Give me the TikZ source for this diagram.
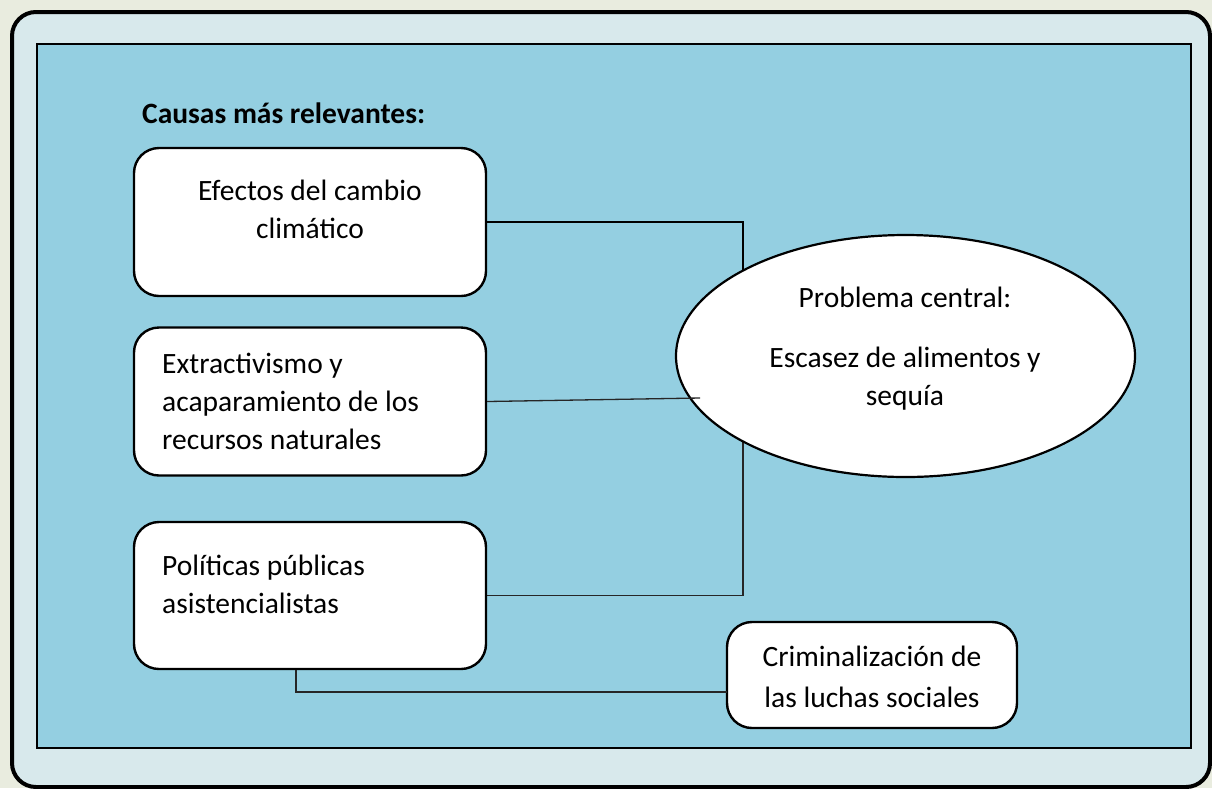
\documentclass[tikz,border=0pt]{standalone}
\usepackage{fontspec}
\setmainfont{Carlito}
\usetikzlibrary{shapes.geometric}
\pgfdeclarelayer{bg}
\pgfdeclarelayer{conn}
\pgfsetlayers{bg,conn,main}
\definecolor{pagebg}{HTML}{E9ECDF}
\definecolor{outerfill}{HTML}{D8E9EC}
\definecolor{innerfill}{HTML}{94CFE1}
\begin{document}
\begin{tikzpicture}[x=1pt,y=-1pt,
  box/.style={draw=black, line width=2.4pt, fill=white, rounded corners=25pt, inner sep=0pt},
  txt/.style={font=\fontsize{29.5}{38}\selectfont, inner sep=0pt},
  heavyconn/.style={draw=black, line width=2.2pt},
  lightconn/.style={draw=black!85, line width=1.3pt}]
\useasboundingbox (0,0) rectangle (1212,788);
\begin{pgfonlayer}{bg}
  \fill[pagebg] (0,0) rectangle (1212,788);
  \draw[fill=outerfill, line width=4pt, rounded corners=24pt] (12,12) rectangle (1210,787);
  \draw[fill=innerfill, line width=2.6pt] (37,44) rectangle (1191,748);
\end{pgfonlayer}

\node[txt, anchor=base west, font=\bfseries\fontsize{29.5}{38}\selectfont] (title) at (142,123) {Causas más relevantes:};

\node[box, minimum width=352pt, minimum height=148pt] (b1) at (310,222) {};
\node[box, minimum width=352pt, minimum height=148pt] (b2) at (310,401.5) {};
\node[box, minimum width=352pt, minimum height=147pt] (b3) at (310,595.5) {};
\node[box, minimum width=290pt, minimum height=106pt] (b4) at (872,675) {};
\node[ellipse, draw=black, line width=2.2pt, fill=white, minimum width=459pt, minimum height=242pt, inner sep=0pt] (ell) at (905.5,356) {};

% multi-line nodes: base anchor is the baseline of the last line
\node[txt, anchor=base, align=center] (t1) at (310,238) {Efectos del cambio\\climático};
\node[txt, anchor=base west, align=left] (t2) at (162,449) {Extractivismo y\\acaparamiento de los\\recursos naturales};
\node[txt, anchor=base west, align=left] (t3) at (162,613) {Políticas públicas\\asistencialistas};
\node[txt, anchor=base, align=center, font=\fontsize{29.5}{41}\selectfont] (t4) at (872,707) {Criminalización de\\las luchas sociales};
\node[txt, anchor=base, align=center] (te) at (905,405) {Problema central:\\[22pt]Escasez de alimentos y\\sequía};

\coordinate (j) at (743,0);
\coordinate (k) at (296,0);
\coordinate (e2) at (700,398);
\coordinate (e4) at (727,692);

\begin{pgfonlayer}{conn}
  \draw[heavyconn] (b1.east) -| (j |- ell.center);
  \draw[lightconn] (b3.east) -| (j |- ell.center);
\end{pgfonlayer}
\draw[lightconn] (b2.east) -- (e2);
\draw[lightconn] (k |- b3.south) |- (e4);
\end{tikzpicture}
\end{document}
